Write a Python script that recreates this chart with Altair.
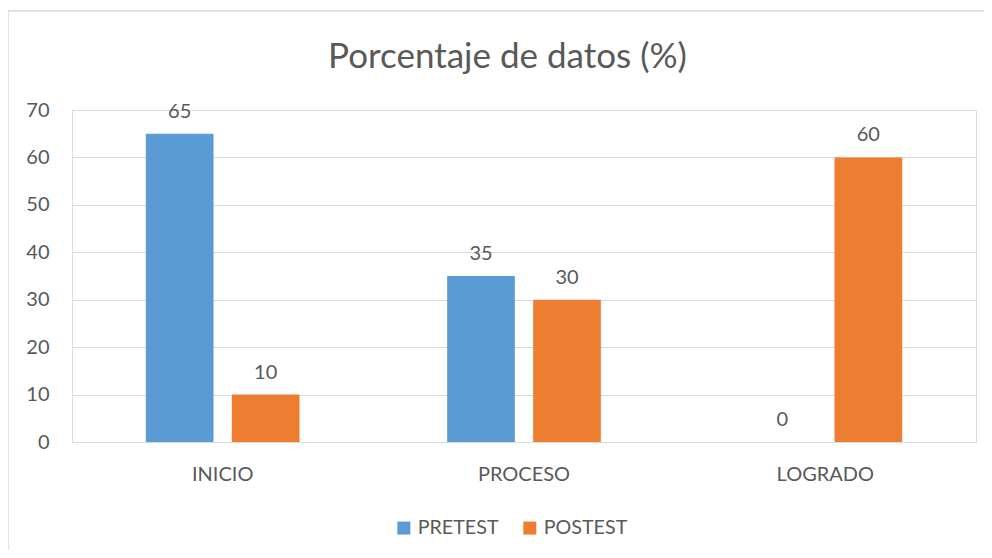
import altair as alt
import pandas as pd

categories = ["INICIO", "PROCESO", "LOGRADO"]
series = ["PRETEST", "POSTEST"]
pretest = [65, 35, 0]
postest = [10, 30, 60]
colors = ["#5B9BD5", "#ED7D31"]
y_ticks = [0, 10, 20, 30, 40, 50, 60, 70]
title_text = "Porcentaje de datos (%)"

rows = []
for c, a, b in zip(categories, pretest, postest):
    rows.append({"cat": c, "serie": series[0], "val": a})
    rows.append({"cat": c, "serie": series[1], "val": b})
df = pd.DataFrame(rows)

FONT = "Lato"
TXT = "#595959"
GRID = "#D9D9D9"
W, H = 904, 332

x_enc = alt.X("cat:N", sort=categories, title=None,
              scale=alt.Scale(paddingInner=0.49, paddingOuter=0.245),
              axis=alt.Axis(labelAngle=0, domain=False, ticks=False, labelPadding=22,
                            labelFontSize=20, labelColor=TXT, labelFont=FONT, grid=False))
xo_enc = alt.XOffset("serie:N", sort=series,
                     scale=alt.Scale(paddingInner=0.213, paddingOuter=0))
y_enc = alt.Y("val:Q", title=None,
              scale=alt.Scale(domain=[0, 70], nice=False),
              axis=alt.Axis(values=y_ticks, domain=False, ticks=False, labelPadding=23,
                            gridColor=GRID, gridWidth=1, labelFontSize=20,
                            labelColor=TXT, labelFont=FONT))

base = alt.Chart(df)

bars = base.mark_bar().encode(
    x=x_enc, xOffset=xo_enc, y=y_enc,
    color=alt.Color("serie:N", sort=series, title=None,
                    scale=alt.Scale(domain=series, range=colors),
                    legend=alt.Legend(orient="none", legendX=322, legendY=408,
                                      direction="horizontal", symbolType="square",
                                      symbolSize=169, symbolStrokeWidth=0,
                                      labelFontSize=19.7, labelFont=FONT, labelColor=TXT,
                                      labelOffset=4, columnPadding=21, padding=0)),
)

labels = base.mark_text(baseline="alphabetic", dy=-16, fontSize=20, font=FONT, color=TXT).encode(
    x=x_enc, xOffset=xo_enc, y=y_enc, text=alt.Text("val:Q"),
)

one = pd.DataFrame({"t": [title_text]})
border_top = alt.Chart(one).mark_rule(stroke=GRID, strokeWidth=1.5).encode(
    x=alt.value(-64), x2=alt.value(W + 8), y=alt.value(-99)
)
border_left = alt.Chart(one).mark_rule(stroke=GRID, strokeWidth=1.5).encode(
    x=alt.value(-64), y=alt.value(-99), y2=alt.value(H + 108)
)
title = alt.Chart(one).mark_text(
    font=FONT, fontSize=35, color=TXT, align="center", baseline="alphabetic"
).encode(x=alt.value(435.5), y=alt.value(-42), text="t:N")

chart = alt.layer(border_top, border_left, bars, labels, title).properties(
    width=W, height=H,
    autosize=alt.AutoSizeParams(type="none"),
    padding={"left": 64, "top": 102, "right": 8, "bottom": 108},
).configure_view(strokeWidth=0, stroke="transparent").configure(background="white")

chart.save("out.html", embed_options={"renderer": "svg", "actions": False})
